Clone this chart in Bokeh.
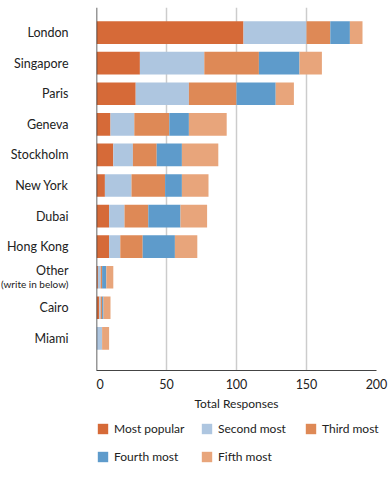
from bokeh.plotting import figure
from bokeh.layouts import column, row
from bokeh.models import ColumnDataSource, Range1d, FixedTicker, Legend, LegendItem, Span
from bokeh.embed import file_html
from bokeh.resources import INLINE

cities = ["London", "Singapore", "Paris", "Geneva", "Stockholm", "New York",
          "Dubai", "Hong Kong", "Other\n(write in below)", "Cairo", "Miami"]
most_popular = [105, 31, 28, 10, 12, 6, 9, 9, 1, 2, 0]
second_most = [45, 46, 38, 17, 14, 19, 11, 8, 2, 1, 4]
third_most = [17, 39, 34, 25, 17, 24, 17, 16, 1, 1, 0]
fourth_most = [14, 29, 28, 14, 18, 12, 23, 23, 3, 1, 0]
fifth_most = [9, 16, 13, 27, 26, 19, 19, 16, 5, 5, 5]
series_labels = ["Most popular", "Second most", "Third most", "Fourth most", "Fifth most"]
x_ticks = [0, 50, 100, 150, 200]

colors = ["#D66A38", "#AEC6E0", "#DE8956", "#5E9BCB", "#E8A57B"]
FONT = "Lato"
TEXT = "#222222"

n = len(cities)
ypos = [n - 1 - i for i in range(n)]
main_lbl = [c.split("\n")[0] for c in cities]
sub_lbl = [c.split("\n")[1] if "\n" in c else "" for c in cities]
main_off = [-7 if s else 0 for s in sub_lbl]

LEFT_W = 96
LABEL_X = 68
TOP = 7
FRAME_H = 363

src = ColumnDataSource(dict(
    y=ypos, most=most_popular, second=second_most, third=third_most,
    fourth=fourth_most, fifth=fifth_most,
    main=main_lbl, sub=sub_lbl, moff=main_off, lx=[LABEL_X] * n,
))

yr = Range1d(-1.05, 10.82)

# ---- left label strip ----
pl = figure(width=LEFT_W, frame_height=FRAME_H, output_backend="svg", toolbar_location=None,
            x_range=Range1d(0, LEFT_W), y_range=yr,
            min_border_left=0, min_border_right=0, min_border_top=TOP, min_border_bottom=0)
pl.axis.visible = False
pl.grid.visible = False
pl.outline_line_color = None
pl.text(x="lx", y="y", text="main", y_offset="moff", source=src,
        text_align="right", text_baseline="middle",
        text_font={"value": FONT}, text_font_size="12.5px", text_color=TEXT)
pl.text(x="lx", y="y", text="sub", y_offset=7, source=src,
        text_align="right", text_baseline="middle",
        text_font={"value": FONT}, text_font_size="10px", text_color=TEXT)

# ---- main chart ----
p = figure(frame_width=280, frame_height=FRAME_H, output_backend="svg", toolbar_location=None,
           x_range=Range1d(0, 200), y_range=yr,
           min_border_left=0, min_border_right=14, min_border_top=TOP, min_border_bottom=50)
p.outline_line_color = None

rs = p.hbar_stack(["most", "second", "third", "fourth", "fifth"], y="y", height=0.74,
                  color=colors, line_color=None, source=src)

p.yaxis.visible = False
p.add_layout(Span(location=0, dimension="height", line_color="#333333", line_width=1.5))

p.xaxis.ticker = FixedTicker(ticks=x_ticks)
p.xaxis.major_tick_line_color = None
p.xaxis.minor_tick_line_color = None
p.xaxis.major_tick_out = 0
p.xaxis.major_label_standoff = 8
p.xaxis.axis_line_color = "#444444"
p.xaxis.axis_line_width = 1.2
p.xaxis.major_label_text_font = FONT
p.xaxis.major_label_text_font_size = "12.5px"
p.xaxis.major_label_text_color = TEXT
p.xaxis.axis_label = "Total Responses"
p.xaxis.axis_label_text_font = FONT
p.xaxis.axis_label_text_font_size = "12px"
p.xaxis.axis_label_text_font_style = "normal"
p.xaxis.axis_label_text_color = TEXT
p.xaxis.axis_label_standoff = 4

p.xgrid.grid_line_color = "#CCCCCC"
p.xgrid.grid_line_width = 1.5
p.ygrid.grid_line_color = None

# ---- legend strip ----
pg = figure(width=LEFT_W + 280 + 14, frame_height=50, output_backend="svg", toolbar_location=None,
            x_range=Range1d(0, 1), y_range=Range1d(0, 1),
            min_border_left=LEFT_W, min_border_right=0, min_border_top=1, min_border_bottom=0)
pg.axis.visible = False
pg.grid.visible = False
pg.outline_line_color = None
# zero-size swatch renderers, used only to draw the legend samples
dummy = [pg.hbar(y=[0.5], left=[0], right=[0], height=0, color=c, line_color=None)
         for c in colors]
items = [LegendItem(label=l, renderers=[r]) for l, r in zip(series_labels, dummy)]
legend = Legend(items=items, ncols=3, orientation="horizontal", location="top_left",
                glyph_width=13, glyph_height=13, label_height=13, label_width=73,
                label_text_font=FONT, label_text_font_size="12px", label_text_color=TEXT,
                label_standoff=5, spacing=13, padding=0, margin=0,
                border_line_color=None, background_fill_alpha=0)
pg.add_layout(legend, "center")

layout = column(row(pl, p, spacing=0), pg, spacing=0)
open("out.html", "w").write(file_html(layout, INLINE))
